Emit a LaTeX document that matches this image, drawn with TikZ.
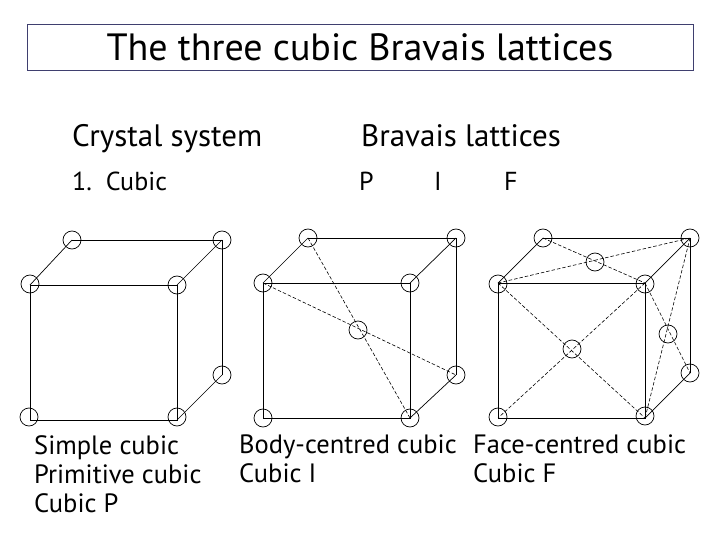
\documentclass[tikz,border=0pt]{standalone}
\usepackage{fontspec}
\setmainfont{PT Sans}
\usetikzlibrary{positioning}
\definecolor{framecol}{HTML}{3F3F6F}

\begin{document}
\begin{tikzpicture}[
  x=1pt, y=-1pt,
  every node/.style={text=black},
  titlebox/.style={draw=framecol, line width=0.9pt, minimum width=666pt, minimum height=46pt,
                   inner sep=0pt, font=\fontsize{38}{44}\selectfont},
  heading/.style={anchor=base west, inner sep=0pt, font=\fontsize{31}{36}\selectfont},
  subhead/.style={heading, font=\fontsize{26}{30}\selectfont},
  caption/.style={anchor=north west, inner sep=0pt, align=left, font=\fontsize{26.5}{29}\selectfont},
  atom/.style={draw, circle, minimum size=18pt, inner sep=0pt, line width=0.7pt},
  edge/.style={line width=1pt},
  thinedge/.style={line width=0.7pt},
  diag/.style={line width=0.6pt, dash pattern=on 3.5pt off 2pt},
]
\useasboundingbox (0,0) rectangle (720,540);

%% Title
\node[titlebox] (title) at (360,47) {The three cubic Bravais lattices};

%% Headings
\node[heading] (system) at (72,147) {Crystal system};
\node[heading] (lattices) at (361,147) {Bravais lattices};
\node[subhead] (cubic) at (72,191) {1.\ \ Cubic};
\node[subhead] (typeP) at (359,191) {P};
\node[subhead, right=60pt of typeP.base east, anchor=base west] (typeI) {I};
\node[subhead, right=62pt of typeI.base east, anchor=base west] (typeF) {F};

%% Simple cubic
\node[atom] (sFTL) at (30,284) {};
\node[atom] (sFTR) at (177,285) {};
\node[atom] (sFBL) at (29,417) {};
\node[atom] (sFBR) at (177,417) {};
\node[atom] (sBTL) at (72,240) {};
\node[atom] (sBTR) at (222,240) {};
\node[atom] (sBBR) at (222,375) {};
\draw[edge] (30,285) coordinate (sa) -- (177,285) coordinate (sb) -- (177,420) coordinate (sc)
  -- (30,420) coordinate (sd) -- cycle;
\draw[edge] (sBTL.center) -- (sBTR.center) -- (sBBR.center);
\draw[thinedge] (sBTL.center) -- (sa);
\draw[thinedge] (sBTR.center) -- (sb);
\draw[thinedge] (sBBR.center) -- (sc);

%% Body-centred cubic
\node[atom] (bFTL) at (263,283) {};
\node[atom] (bFTR) at (410,283) {};
\node[atom] (bFBL) at (263,418) {};
\node[atom] (bFBR) at (410,418) {};
\node[atom] (bBTL) at (308,238) {};
\node[atom] (bBTR) at (456,238) {};
\node[atom] (bBBR) at (456,375) {};
\node[atom] (bMID) at (358,330) {};
\draw[edge] (bFTL.center) -- (bFTR.center) -- (bFBR.center) -- (bFBL.center) -- cycle;
\draw[edge] (bBTL.center) -- (bBTR.center) -- (bBBR.center);
\draw[thinedge] (bBTL.center) -- (bFTL.center);
\draw[thinedge] (bBTR.center) -- (bFTR.center);
\draw[thinedge] (bBBR.center) -- (bFBR.center);
\draw[diag] (bBTL.center) -- (bFBR.center);
\draw[diag] (bFTL.center) -- (bBBR.center);

%% Face-centred cubic
\node[atom] (fFTL) at (498,284) {};
\node[atom] (fFTR) at (645,284) {};
\node[atom] (fFBL) at (498,417) {};
\node[atom] (fFBR) at (645,416) {};
\node[atom] (fBTL) at (543,238) {};
\node[atom] (fBTR) at (690,238) {};
\node[atom] (fBBR) at (690,373) {};
\node[atom] (fTOP) at (595,262) {};
\node[atom] (fFRT) at (572,349) {};
\node[atom] (fSID) at (668,334) {};
\draw[edge] (498,283) coordinate (fa) -- (645,283) coordinate (fb) -- (645,418) coordinate (fc)
  -- (498,418) coordinate (fd) -- cycle;
\draw[edge] (fBTL.center) -- (fBTR.center) -- (fBBR.center);
\draw[thinedge] (fBTL.center) -- (fa);
\draw[thinedge] (fBTR.center) -- (fb);
\draw[thinedge] (fBBR.center) -- (fc);
\draw[diag] (fBTL.center) -- (fb);
\draw[diag] (fa) -- (fBTR.center);
\draw[diag] (fa) -- (fc);
\draw[diag] (fb) -- (fd);
\draw[diag] (fb) -- (fBBR.center);
\draw[diag] (fBTR.center) -- (fc);

%% Captions
\node[caption] (capS) at (34,435) {Simple cubic\\Primitive cubic\\Cubic P};
\node[caption] (capB) at (239,435) {Body-centred cubic\\Cubic I};
\node[caption] (capF) at (473,435) {Face-centred cubic\\Cubic F};

\end{tikzpicture}
\end{document}
